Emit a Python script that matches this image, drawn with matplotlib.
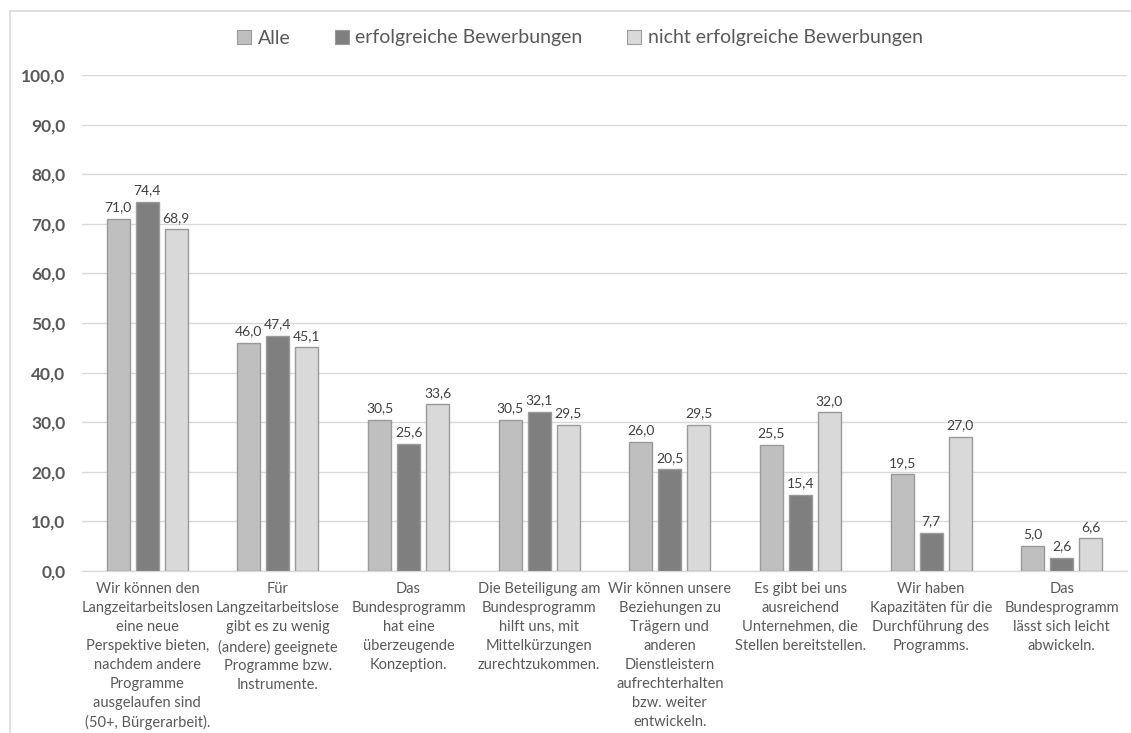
import matplotlib
matplotlib.use("Agg")
import matplotlib.pyplot as plt
import numpy as np
from matplotlib.patches import Patch
from matplotlib.lines import Line2D

categories = [
    "Wir können den\nLangzeitarbeitslosen\neine neue\nPerspektive bieten,\nnachdem andere\nProgramme\nausgelaufen sind\n(50+, Bürgerarbeit).",
    "Für\nLangzeitarbeitslose\ngibt es zu wenig\n(andere) geeignete\nProgramme bzw.\nInstrumente.",
    "Das\nBundesprogramm\nhat eine\nüberzeugende\nKonzeption.",
    "Die Beteiligung am\nBundesprogramm\nhilft uns, mit\nMittelkürzungen\nzurechtzukommen.",
    "Wir können unsere\nBeziehungen zu\nTrägern und\nanderen\nDienstleistern\naufrechterhalten\nbzw. weiter\nentwickeln.",
    "Es gibt bei uns\nausreichend\nUnternehmen, die\nStellen bereitstellen.",
    "Wir haben\nKapazitäten für die\nDurchführung des\nProgramms.",
    "Das\nBundesprogramm\nlässt sich leicht\nabwickeln.",
]
series_names = ["Alle", "erfolgreiche Bewerbungen", "nicht erfolgreiche Bewerbungen"]
alle = [71.0, 46.0, 30.5, 30.5, 26.0, 25.5, 19.5, 5.0]
erfolgreich = [74.4, 47.4, 25.6, 32.1, 20.5, 15.4, 7.7, 2.6]
nicht_erfolgreich = [68.9, 45.1, 33.6, 29.5, 29.5, 32.0, 27.0, 6.6]
y_ticks = [0, 10, 20, 30, 40, 50, 60, 70, 80, 90, 100]

colors = ["#bfbfbf", "#7f7f7f", "#d9d9d9"]
edge = "#9a9a9a"
text_col = "#595959"

plt.rcParams['font.family'] = ['Lato', 'DejaVu Sans']

fig = plt.figure(figsize=(11.31, 7.33), dpi=100)
ax = fig.add_axes([82/1131, 1 - 571/733, (1127-82)/1131, (571-75)/733])

# outer chart border (left and top visible)
fig.add_artist(Line2D([10/1131, 10/1131], [0, 1 - 10.5/733], transform=fig.transFigure,
                      color="#d9d9d9", lw=1.2))
fig.add_artist(Line2D([10/1131, 1.0], [1 - 10.5/733, 1 - 10.5/733], transform=fig.transFigure,
                      color="#d9d9d9", lw=1.2))

x = np.arange(len(categories))
w = 0.176
stride = 0.222
all_series = [alle, erfolgreich, nicht_erfolgreich]
for i, (vals, c) in enumerate(zip(all_series, colors)):
    pos = x + (i - 1) * stride
    bars = ax.bar(pos, vals, width=w, color=c, edgecolor=edge, linewidth=1.0, zorder=3)
    for b, v in zip(bars, vals):
        ax.annotate(f"{v:.1f}".replace(".", ","), (b.get_x() + b.get_width()/2, v),
                    xytext=(0, 4), textcoords="offset points", ha="center", va="bottom",
                    fontsize=10, color="#404040")

ax.set_xlim(-0.5, len(categories) - 0.5)
ax.set_ylim(0, 100)
ax.set_yticks(y_ticks)
ax.set_yticklabels([f"{t:.1f}".replace(".", ",") for t in y_ticks],
                   fontsize=12.5, color=text_col, fontweight="bold")
ax.set_xticks(x)
ax.set_xticklabels(categories, fontsize=10.5, color=text_col, linespacing=1.45)
ax.tick_params(axis="both", length=0)
ax.tick_params(axis="y", pad=12)
ax.tick_params(axis="x", pad=8)
ax.grid(axis="y", color="#d9d9d9", lw=1.0, zorder=0)
ax.set_axisbelow(True)
for s in ["left", "right", "top"]:
    ax.spines[s].set_visible(False)
ax.spines["bottom"].set_color("#d9d9d9")
ax.spines["bottom"].set_linewidth(1.0)

handles = [Patch(facecolor=c, edgecolor=edge, linewidth=0.8) for c in colors]
fig.legend(handles, series_names, loc="center", bbox_to_anchor=(580/1131, 1 - 38/733),
           ncol=3, frameon=False, fontsize=14, handlelength=0.7, handleheight=0.7,
           handletextpad=0.35, columnspacing=2.3, labelcolor=text_col)

fig.savefig("out.png", dpi=100, facecolor="white")
